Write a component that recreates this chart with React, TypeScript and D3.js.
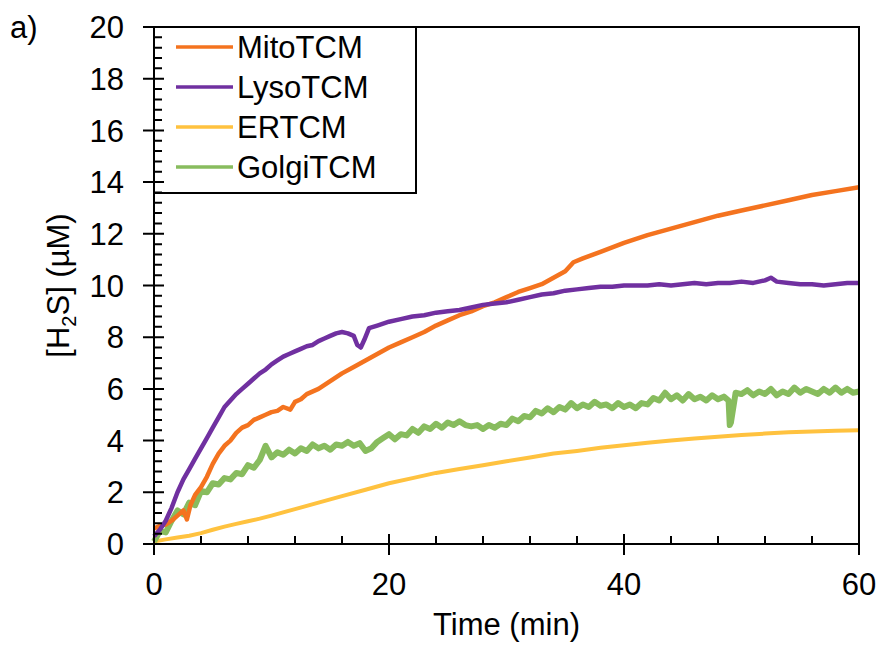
import React from "react";
import * as d3 from "d3";

const seriesNames = ["MitoTCM", "LysoTCM", "ERTCM", "GolgiTCM"];
const seriesColors = ["#F4731F", "#7030A0", "#FFC23F", "#88BC5E"];

const mitoTime = [0, 0.5, 1, 1.5, 2, 2.5, 2.8, 3.1, 3.5, 4, 4.5, 5, 5.5, 6, 6.5, 7, 7.5, 8, 8.5, 9, 9.5, 10, 10.5, 11, 11.6, 12, 12.5, 13, 14, 15, 16, 17, 18, 19, 20, 21, 22, 23, 24, 25, 26, 27, 28, 29, 30, 31, 32, 33, 34, 35, 35.7, 36.5, 38, 40, 42, 44, 46, 48, 50, 52, 54, 56, 58, 60];
const mitoValue = [0.6, 0.7, 0.75, 0.9, 1.1, 1.3, 0.95, 1.5, 1.9, 2.2, 2.6, 3.1, 3.5, 3.8, 4.0, 4.3, 4.5, 4.6, 4.8, 4.9, 5.0, 5.1, 5.15, 5.3, 5.2, 5.5, 5.6, 5.8, 6.0, 6.3, 6.6, 6.85, 7.1, 7.35, 7.6, 7.8, 8.0, 8.2, 8.45, 8.65, 8.85, 9.0, 9.2, 9.35, 9.55, 9.75, 9.9, 10.05, 10.3, 10.55, 10.9, 11.05, 11.3, 11.65, 11.95, 12.2, 12.45, 12.7, 12.9, 13.1, 13.3, 13.5, 13.65, 13.8];

const lysoTime = [0, 0.5, 1, 1.5, 2, 2.5, 3, 3.5, 4, 4.5, 5, 5.5, 6, 6.5, 7, 7.5, 8, 8.5, 9, 9.5, 10, 10.5, 11, 11.5, 12, 12.5, 13, 13.5, 14, 14.5, 15, 15.5, 16, 16.5, 17, 17.3, 17.6, 17.9, 18.3, 19, 20, 21, 22, 23, 24, 25, 26, 27, 28, 29, 30, 31, 32, 33, 34, 35, 36, 37, 38, 39, 40, 41, 42, 43, 44, 45, 46, 47, 48, 49, 50, 51, 52, 52.5, 53, 54, 55, 56, 57, 58, 59, 60];
const lysoValue = [0.3, 0.55, 0.9, 1.4, 2.0, 2.5, 2.9, 3.3, 3.7, 4.1, 4.5, 4.9, 5.3, 5.55, 5.8, 6.0, 6.2, 6.4, 6.6, 6.75, 6.95, 7.1, 7.25, 7.35, 7.45, 7.55, 7.65, 7.7, 7.85, 7.95, 8.05, 8.15, 8.2, 8.15, 8.05, 7.7, 7.6, 7.9, 8.35, 8.45, 8.6, 8.7, 8.8, 8.85, 8.95, 9.0, 9.05, 9.15, 9.25, 9.3, 9.35, 9.45, 9.55, 9.65, 9.7, 9.8, 9.85, 9.9, 9.95, 9.95, 10.0, 10.0, 10.0, 10.05, 10.0, 10.05, 10.1, 10.05, 10.1, 10.1, 10.15, 10.1, 10.2, 10.3, 10.15, 10.1, 10.05, 10.05, 10.0, 10.05, 10.1, 10.1];

const erTime = [0, 1, 2, 3, 4, 5, 6, 7, 8, 9, 10, 12, 14, 16, 18, 20, 22, 24, 26, 28, 30, 32, 34, 36, 38, 40, 42, 44, 46, 48, 50, 52, 54, 56, 58, 60];
const erValue = [0.1, 0.18, 0.25, 0.32, 0.42, 0.55, 0.67, 0.78, 0.88, 0.98, 1.1, 1.35, 1.6, 1.85, 2.1, 2.35, 2.55, 2.75, 2.9, 3.05, 3.2, 3.35, 3.5, 3.6, 3.72, 3.82, 3.92, 4.0, 4.08, 4.15, 4.22, 4.27, 4.32, 4.35, 4.38, 4.4];

const golgiTime = [0, 0.5, 1, 1.5, 2, 2.5, 3, 3.5, 4, 4.5, 5, 5.5, 6, 6.5, 7, 7.5, 8, 8.5, 9, 9.5, 10, 10.5, 11, 11.5, 12, 12.5, 13, 13.5, 14, 14.5, 15, 15.5, 16, 16.5, 17, 17.5, 18, 18.5, 19, 19.5, 20, 20.5, 21, 21.5, 22, 22.5, 23, 23.5, 24, 24.5, 25, 25.5, 26, 26.5, 27, 27.5, 28, 28.5, 29, 29.5, 30, 30.5, 31, 31.5, 32, 32.5, 33, 33.5, 34, 34.5, 35, 35.5, 36, 36.5, 37, 37.5, 38, 38.5, 39, 39.5, 40, 40.5, 41, 41.5, 42, 42.5, 43, 43.5, 44, 44.5, 45, 45.5, 46, 46.5, 47, 47.5, 48, 48.5, 48.9, 49.0, 49.1, 49.5, 50, 50.5, 51, 51.5, 52, 52.5, 53, 53.5, 54, 54.5, 55, 55.5, 56, 56.5, 57, 57.5, 58, 58.5, 59, 59.5, 60];
const golgiValue = [0.1, 0.5, 0.45, 0.9, 1.3, 1.15, 1.6, 1.5, 2.05, 2.0, 2.35, 2.3, 2.55, 2.5, 2.75, 2.7, 3.05, 2.95, 3.25, 3.8, 3.35, 3.55, 3.45, 3.65, 3.5, 3.7, 3.6, 3.85, 3.7, 3.8, 3.65, 3.85, 3.8, 3.95, 3.8, 3.9, 3.6, 3.7, 3.95, 4.1, 4.25, 4.05, 4.25, 4.2, 4.45, 4.3, 4.55, 4.45, 4.65, 4.5, 4.7, 4.6, 4.75, 4.6, 4.55, 4.6, 4.45, 4.6, 4.5, 4.65, 4.6, 4.85, 4.75, 4.95, 4.9, 5.15, 5.05, 5.25, 5.1, 5.3, 5.2, 5.45, 5.25, 5.4, 5.3, 5.5, 5.35, 5.4, 5.25, 5.45, 5.3, 5.4, 5.25, 5.45, 5.4, 5.65, 5.55, 5.85, 5.6, 5.75, 5.55, 5.8, 5.6, 5.7, 5.55, 5.75, 5.6, 5.7, 5.55, 4.6, 4.7, 5.85, 5.8, 5.95, 5.75, 5.9, 5.8, 6.0, 5.75, 5.9, 5.8, 6.05, 5.85, 6.0, 5.9, 5.8, 6.0, 5.85, 6.05, 5.85, 6.0, 5.85, 5.9];

const xMajorTicks = [0, 20, 40, 60];
const xMinorTicks = [4, 8, 12, 16, 24, 28, 32, 36, 44, 48, 52, 56];
const yMajorTicks = [0, 2, 4, 6, 8, 10, 12, 14, 16, 18, 20];

const W = 880;
const H = 646;
const FONT = "'Liberation Sans', Arial, sans-serif";

export default function App() {
  const x = d3.scaleLinear().domain([0, 60]).range([154, 859]);
  const y = d3.scaleLinear().domain([0, 20]).range([544, 27]);
  const yMinor: number[] = [];
  for (let k = 1; k < 50; k++) {
    if (k % 5 !== 0) yMinor.push(k * 0.4);
  }

  const times = [mitoTime, lysoTime, erTime, golgiTime];
  const values = [mitoValue, lysoValue, erValue, golgiValue];
  const widths = [4.5, 4.5, 4, 6];
  const line = d3
    .line<[number, number]>()
    .x((d) => x(d[0]))
    .y((d) => y(d[1]));

  const order = [2, 3, 0, 1];

  const x0 = x(0);
  const yb = y(0);
  let tickPath = "";
  yMajorTicks.forEach((v) => {
    tickPath += `M${x0 - 11},${y(v).toFixed(2)}H${x0 + 10}`;
  });
  yMinor.forEach((v) => {
    tickPath += `M${x0},${y(v).toFixed(2)}H${x0 + 8}`;
  });
  xMajorTicks.forEach((v) => {
    tickPath += `M${x(v).toFixed(2)},${yb - 10}V${yb + 11}`;
  });
  xMinorTicks.forEach((v) => {
    tickPath += `M${x(v).toFixed(2)},${yb - 8}V${yb}`;
  });

  return (
    <svg width={W} height={H} style={{ position: "absolute", left: 0, top: 0, background: "#fff" }} fontFamily={FONT}>
      <rect x={0} y={0} width={W} height={H} fill="#fff" />
      {order.map((i) => {
        const pts = times[i].map((t, k) => [t, values[i][k]] as [number, number]);
        return (
          <path
            key={seriesNames[i]}
            d={line(pts) || ""}
            fill="none"
            stroke={seriesColors[i]}
            strokeWidth={widths[i]}
            strokeLinejoin="round"
          />
        );
      })}

      {/* legend box */}
      <rect x={x(0)} y={y(20)} width={262} height={166} fill="#fff" stroke="#000" strokeWidth={2} />

      {/* frame */}
      <path
        d={`M${x0},${y(20)}V${yb + 2}M${x0 - 11},${yb}H${x(60)}M${x0 - 11},${y(20)}H${x(60) + 1}M${x(60)},${y(20)}V${yb}`}
        stroke="#000"
        strokeWidth={2}
        fill="none"
      />
      <path d={tickPath} stroke="#000" strokeWidth={2} fill="none" />

      {yMajorTicks.map((v) => (
        <text key={"yl" + v} x={124} y={y(v)} dy="0.36em" textAnchor="end" fontSize={31} fill="#000">
          {v}
        </text>
      ))}
      {xMajorTicks.map((v) => (
        <text key={"xl" + v} x={x(v)} y={595} textAnchor="middle" fontSize={31} fill="#000">
          {v}
        </text>
      ))}

      {/* axis titles */}
      <text x={(x(0) + x(60)) / 2} y={635} textAnchor="middle" fontSize={31} fill="#000">
        Time (min)
      </text>
      <text transform={`translate(69,${(y(0) + y(20)) / 2}) rotate(-90)`} textAnchor="middle" fontSize={31} fill="#000">
        [H<tspan fontSize={20} dy={7}>2</tspan>
        <tspan dy={-7}>S] (µM)</tspan>
      </text>
      <text x={10} y={38} fontSize={31} fill="#000">
        a)
      </text>

      {/* legend entries */}
      {seriesNames.map((name, i) => {
        const cy = 47 + i * 40;
        return (
          <g key={"lg" + name}>
            <line x1={176} x2={233} y1={cy} y2={cy} stroke={seriesColors[i]} strokeWidth={3.5} />
            <text x={237} y={cy} dy="0.36em" fontSize={31} fill="#000">
              {name}
            </text>
          </g>
        );
      })}
    </svg>
  );
}
